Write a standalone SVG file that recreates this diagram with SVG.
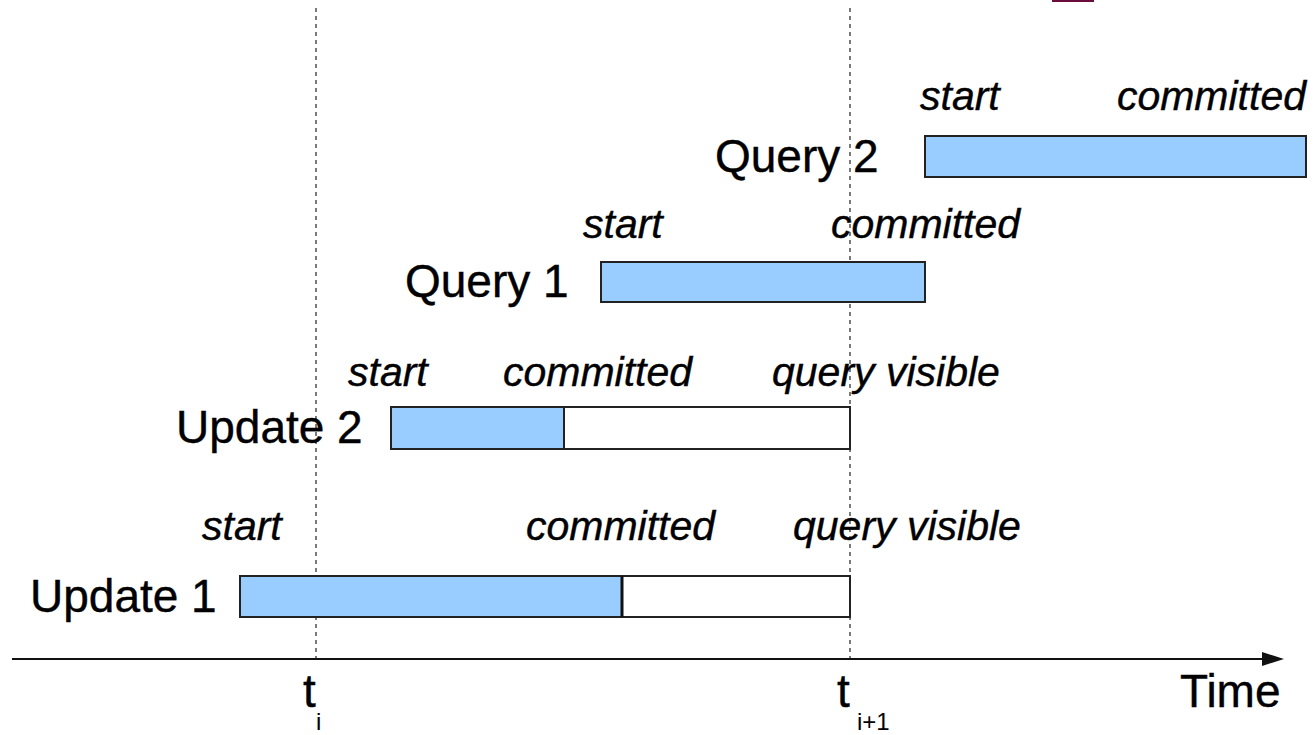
<svg xmlns="http://www.w3.org/2000/svg" width="1316" height="735" viewBox="0 0 1316 735">
  <style>
    .lbl { font-family: "Liberation Sans", Arial, sans-serif; font-size: 46px; fill: #000; stroke: #000; stroke-width: 0.4; }
    .ev { font-family: "Liberation Sans", Arial, sans-serif; font-size: 41px; font-style: italic; fill: #000; stroke: #000; stroke-width: 0.4; }
    .sub { font-family: "Liberation Sans", Arial, sans-serif; font-size: 24px; fill: #000; }
    .busy { fill: #99ccff; stroke: #222; stroke-width: 2; }
    .wait { fill: #fff; stroke: #222; stroke-width: 2; }
    .guide { stroke: #333; stroke-width: 1.3; stroke-dasharray: 4 4; fill: none; }
    .axis { stroke: #111; stroke-width: 2; fill: none; }
  </style>

  <rect width="1316" height="735" fill="#fff"/>
  <rect x="1052" y="0" width="42" height="2" fill="#6b0d3a"/>

  <!-- time guides and axis -->
  <g id="connectors">
    <line class="guide" x1="316" y1="8" x2="316" y2="659"/>
    <line class="guide" x1="850" y1="8" x2="850" y2="659"/>
    <line class="axis" x1="12" y1="659" x2="1270" y2="659"/>
    <path d="M1262,652 L1284,659 L1262,666 z" fill="#111"/>
  </g>

  <g id="tick-ti">
    <text class="lbl" x="303" y="707">t</text>
    <text class="sub" x="316" y="730">i</text>
  </g>
  <g id="tick-ti1">
    <text class="lbl" x="837" y="707">t</text>
    <text class="sub" x="857" y="730">i+1</text>
  </g>
  <g id="time-label">
    <text class="lbl" x="1180" y="707">Time</text>
  </g>

  <g id="query2">
    <text class="lbl" x="715" y="172">Query 2</text>
    <rect class="busy" x="925" y="136" width="381" height="41"/>
    <text class="ev" x="920" y="110">start</text>
    <text class="ev" x="1306" y="110" text-anchor="end">committed</text>
  </g>

  <g id="query1">
    <text class="lbl" x="405" y="297">Query 1</text>
    <rect class="busy" x="601" y="262" width="324" height="40"/>
    <text class="ev" x="583" y="238">start</text>
    <text class="ev" x="831" y="238">committed</text>
  </g>

  <g id="update2">
    <text class="lbl" x="176" y="443">Update 2</text>
    <rect class="wait" x="391" y="407" width="459" height="42"/>
    <rect class="busy" x="391" y="407" width="173" height="42"/>
    <text class="ev" x="348" y="386">start</text>
    <text class="ev" x="503" y="386">committed</text>
    <text class="ev" x="772" y="386">query visible</text>
  </g>

  <g id="update1">
    <text class="lbl" x="30" y="612">Update 1</text>
    <rect class="wait" x="240" y="576" width="610" height="41"/>
    <rect class="busy" x="240" y="576" width="382" height="41"/>
    <line x1="622" y1="576" x2="622" y2="617" stroke="#111" stroke-width="3"/>
    <text class="ev" x="202" y="540">start</text>
    <text class="ev" x="526" y="540">committed</text>
    <text class="ev" x="793" y="540">query visible</text>
  </g>
</svg>
